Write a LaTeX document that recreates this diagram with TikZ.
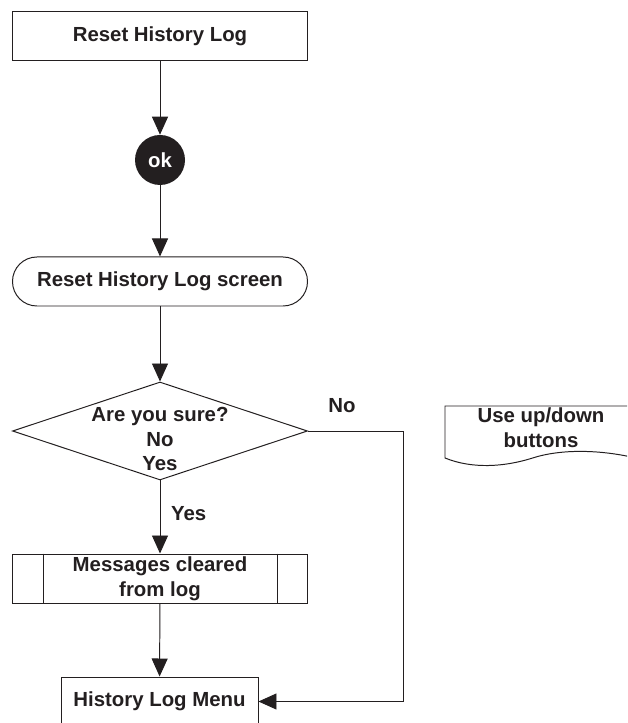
\documentclass[tikz,border=0pt]{standalone}
\usepackage{fontspec}
\setmainfont{Liberation Sans}
\usetikzlibrary{arrows.meta,calc,positioning,shapes.geometric}
\definecolor{Ink}{HTML}{231F20}

\tikzset{
  flowline/.style={draw=Ink,line width=0.7pt},
  flowarrow/.style={flowline,-{Triangle[length=0.45cm,width=0.4cm]}},
  stepbox/.style={draw=Ink,line width=0.7pt,minimum width=7.375cm,minimum height=1.225cm,
    inner sep=0pt,align=center},
  flowtext/.style={font=\fontsize{14.5}{17.5}\selectfont\bfseries,text=Ink,align=center}
}

\begin{document}
\begin{tikzpicture}[x=1cm,y=1cm]
    \clip (0,0) rectangle (15.675,18.075);
    \fill[white] (0,0) rectangle (15.675,18.075);
    % main column
    \node[stepbox,flowtext] (reset) at (4.0,17.1625) {Reset History Log};
    \node[circle,fill=Ink,minimum size=1.25cm,inner sep=0pt,flowtext,text=white] (ok) at (4.0,14.075) {ok};
    \node[stepbox,flowtext,rounded corners=0.61cm] (screen) at (4.0,11.0375) {Reset History Log screen};
    \node[diamond,draw=Ink,line width=0.7pt,minimum width=7.375cm,minimum height=2.45cm,inner sep=0pt] (ask) at (4.0,7.3) {};
    \node[flowtext] (asktext) at (4.0,7.1) {Are you sure?\\No\\Yes};
    \node[stepbox,flowtext] (msgs) at (4.0,3.6125) {Messages cleared\\from log};
    \draw[flowline] ($(msgs.north west)+(0.775,0)$) -- ($(msgs.south west)+(0.775,0)$);
    \draw[flowline] ($(msgs.north east)+(-0.775,0)$) -- ($(msgs.south east)+(-0.775,0)$);
    \node[stepbox,flowtext,minimum width=4.925cm] (menu) at (3.9875,0.5375) {History Log Menu};
    % side note
    \node[flowtext] (hint) at (13.525,7.375) {Use up/down\\buttons};
    \draw[flowline] (16,7.925) -- (11.125,7.925) -- (11.125,6.625)
      .. controls (11.8,6.35) and (12.6,6.4) .. (13.3,6.62)
      .. controls (14.0,6.85) and (15.0,6.85) .. (16,6.6);
    % connectors
    \draw[flowarrow] (reset) -- (ok);
    \draw[flowarrow] (ok) -- (screen);
    \draw[flowarrow] (screen) -- (ask.north);
    \draw[flowarrow] (ask.south) -- (msgs) node[flowtext,pos=0.45,right=0.15cm] (yes) {Yes};
    \draw[flowarrow] (msgs) -- (menu);
    \coordinate (noturn) at (10.075,0);
    \draw[flowarrow] (ask.east) -| (noturn |- menu.east) -- (menu.east);
    \node[flowtext] (no) at (8.55,7.925) {No};
\end{tikzpicture}
\end{document}
